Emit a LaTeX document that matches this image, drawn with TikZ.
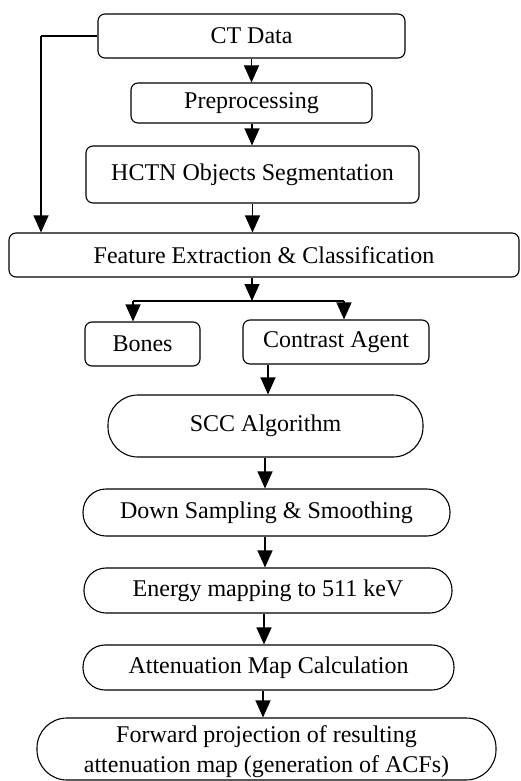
\documentclass[tikz,border=0pt]{standalone}
\usepackage{fontspec}
\setmainfont{Liberation Serif}
\usetikzlibrary{arrows.meta,calc}
\begin{document}
\begin{tikzpicture}[x=1pt,y=-1pt,
  box/.style={draw,line width=1.1pt,rounded corners=7pt,inner sep=0pt,align=center,font=\fontsize{24}{29.5}\selectfont},
  pill/.style={box,rounded corners=#1},
  arr/.style={line width=1.1pt,-{Triangle[width=15pt,length=17pt]}},
  ln/.style={line width=1.1pt}]
\useasboundingbox (0,0) rectangle (520,781);
\node[box,minimum width=307pt,minimum height=44pt] (ct) at (251.5,36) {CT Data};
\node[box,minimum width=241pt,minimum height=40pt] (pre) at (251.5,103) {Preprocessing};
\node[box,minimum width=333pt,minimum height=57pt] (hctn) at (252.5,174.5) {HCTN Objects Segmentation};
\node[box,minimum width=510pt,minimum height=44pt] (feat) at (264,255) {Feature Extraction \& Classification};
\node[box,minimum width=115pt,minimum height=44pt] (bones) at (142.5,344) {Bones};
\node[box,minimum width=186pt,minimum height=44pt] (contrast) at (336,342) {Contrast Agent};
\node[pill=30pt,minimum width=315pt,minimum height=62pt] (scc) at (265.5,426) {SCC Algorithm};
\node[pill=23pt,minimum width=367pt,minimum height=47pt] (down) at (266.5,512.5) {Down Sampling \& Smoothing};
\node[pill=22pt,minimum width=368pt,minimum height=45pt] (energy) at (268,590.5) {Energy mapping to 511 keV};
\node[pill=22pt,minimum width=371pt,minimum height=45pt] (atten) at (268.5,667.5) {Attenuation Map Calculation};
\node[pill=30pt,minimum width=459pt,minimum height=62pt,text height=52pt] (fwd) at (266.5,749) {Forward projection of resulting\\attenuation map (generation of ACFs)};
\coordinate (lc) at (41,36);
\coordinate (split) at (252,301);
\coordinate (sl) at (133,301);
\coordinate (sr) at (344,301);
\draw[arr] (ct.south) -- (pre.north);
\draw[arr] ([xshift=0.5pt]pre.south) -- ([xshift=-0.5pt]hctn.north);
\draw[arr] (hctn.south) -- (hctn.south |- feat.north);
\draw[ln] (ct.west) -- (lc);
\draw[arr] (lc) -- (lc |- feat.north);
\draw[arr] (split |- feat.south) -- (split);
\draw[ln] (sl) -- (sr);
\draw[arr] (sl) -- (sl |- bones.north);
\draw[arr] (sr) -- (sr |- contrast.north);
\draw[arr] ([xshift=-68pt]contrast.south) -- ([xshift=-68pt]contrast.south |- scc.north);
\draw[arr] ([xshift=-0.5pt]scc.south) -- ([xshift=-0.5pt]scc.south |- down.north);
\draw[arr] ([xshift=-1.5pt]down.south) -- ([xshift=-1.5pt]down.south |- energy.north);
\draw[arr] ([xshift=-4pt]energy.south) -- ([xshift=-4pt]energy.south |- atten.north);
\draw[arr] ([xshift=-5.5pt]atten.south) -- ([xshift=-5.5pt]atten.south |- fwd.north);
\end{tikzpicture}
\end{document}
